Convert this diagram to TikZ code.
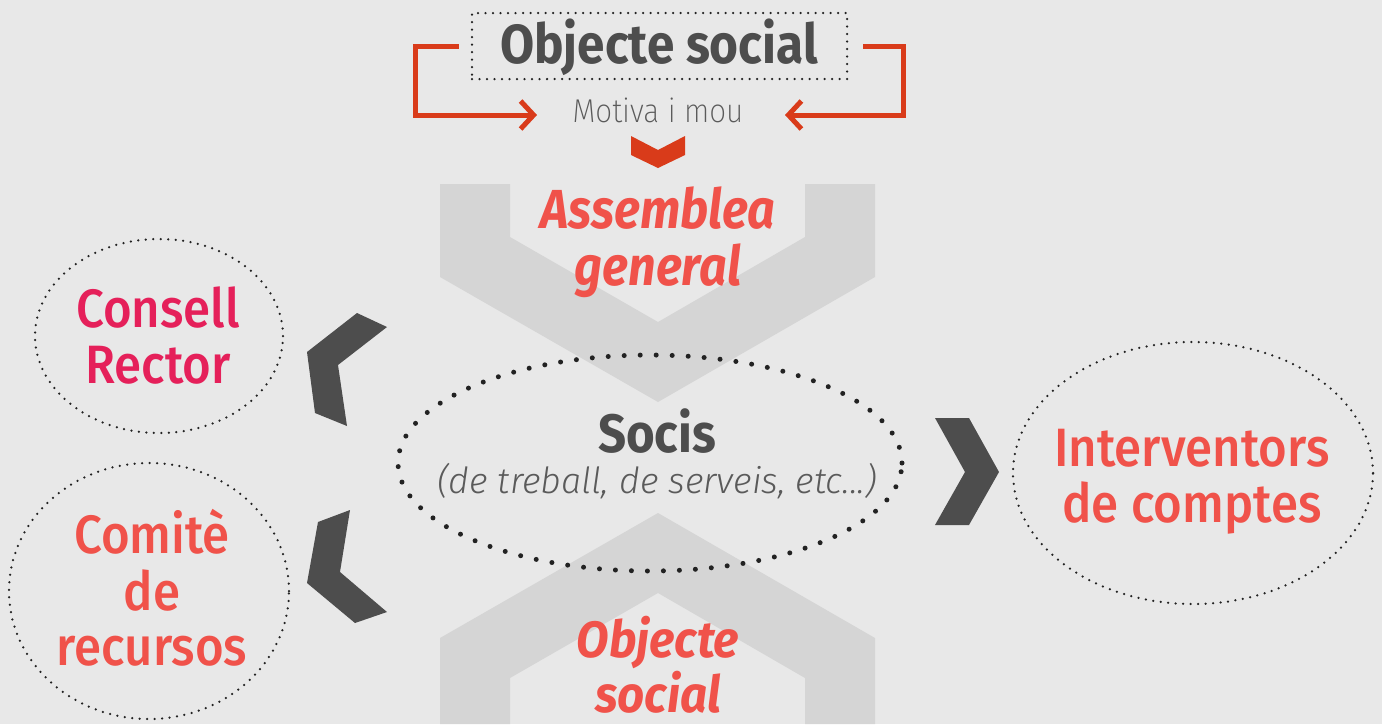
\documentclass[tikz,border=0pt]{standalone}
\usepackage{fontspec}
\setmainfont{Fira Sans}
\newfontfamily\lightfont{Fira Sans Light}
\newfontfamily\xlightfont{Fira Sans ExtraLight}[FakeStretch=0.9]
\newfontfamily\medfont{Fira Sans Medium}[FakeStretch=0.91]
\usetikzlibrary{arrows.meta,shapes.geometric}
\definecolor{bg}{HTML}{E8E8E8}
\definecolor{chev}{HTML}{D5D5D5}
\definecolor{dark}{HTML}{4D4D4D}
\definecolor{redline}{HTML}{D93B1A}
\definecolor{txtred}{HTML}{F0524A}
\definecolor{crimson}{HTML}{E5205A}
\definecolor{dotc}{HTML}{222222}
\definecolor{motc}{HTML}{5A5A5A}
\tikzset{
  smalldots/.style={draw=dotc, line width=2.5pt, dash pattern=on 0pt off 7.5pt, line cap=round},
  bigdots/.style={draw=dotc, line width=5pt, dash pattern=on 0pt off 16pt, line cap=round},
  oval/.style={ellipse, inner sep=0pt},
  bracket/.style={draw=redline, line width=5pt, -{Straight Barb[length=13pt,width=28pt]}},
  lbl/.style={anchor=base, inner sep=0pt},
  rednormal/.style={lbl, text=txtred, font=\fontsize{54}{56}\selectfont\medfont},
  redbi/.style={lbl, text=txtred, font=\fontsize{55}{57}\selectfont\bfseries\itshape\addfontfeatures{FakeStretch=0.88}},
  darkbold/.style={lbl, text=dark, font=\fontsize{55}{57}\selectfont\bfseries\addfontfeatures{FakeStretch=0.9}},
}
\begin{document}
\begin{tikzpicture}[x=1pt,y=-1pt]
\fill[bg] (0,0) rectangle (1382,724);
\useasboundingbox (0,0) rectangle (1382,724);
% light chevrons
\fill[chev] (440,184) -- (510,184) -- (510,237) -- (658,322) -- (805,237) -- (805,184) -- (875,184) -- (875,277) -- (658,402) -- (440,277) -- cycle;
\fill[chev] (440,638) -- (658,513) -- (875,638) -- (875,724) -- (805,724) -- (805,678) -- (658,593) -- (510,678) -- (510,724) -- (440,724) -- cycle;
% dark chevrons
\fill[dark] (357,313) -- (387,327) -- (338,365) -- (347,426) -- (315,413) -- (307,352) -- cycle;
\fill[dark] (350,510) -- (340,572) -- (387,612) -- (355,623) -- (307,583) -- (318,522) -- cycle;
\fill[dark] (935,418) -- (969,418) -- (999,472) -- (969,525) -- (935,525) -- (965,472) -- cycle;
% small red chevron
\fill[redline] (631,136) -- (658,150) -- (685,136) -- (685,155) -- (658,168) -- (631,155) -- cycle;
% top box
\node[smalldots, minimum width=375pt, minimum height=66pt, inner sep=0pt] (box) at (659.5,46) {};
\node[darkbold] (objtitle) at (659,63) {Objecte social};
\node[lbl, text=motc, font=\fontsize{33}{35}\selectfont\xlightfont] (motiva) at (658,122) {Motiva i mou};
\coordinate (lt) at (537,115);
\coordinate (rt) at (785,115);
\draw[bracket] ([xshift=-12pt]box.west) -- ++(-43,0) |- (lt);
\draw[bracket] ([xshift=15pt]box.east) -- ++(40,0) |- (rt);
% assemblea
\node[redbi] (ass1) at (658,228) {Assemblea};
\node[redbi] (ass2) at (658,285) {general};
% socis
\node[oval, bigdots, minimum width=504pt, minimum height=216pt] (socis) at (650,463) {};
\node[darkbold, font=\fontsize{54}{56}\selectfont\bfseries\addfontfeatures{FakeStretch=0.91}] (socist) at (657,452) {Socis};
\node[lbl, text=motc, font=\fontsize{36}{38}\selectfont\lightfont\itshape] (socissub) at (657,493) {(de treball, de serveis, etc...)};
% bottom objecte social
\node[redbi, font=\fontsize{51}{53}\selectfont\bfseries\itshape\addfontfeatures{FakeStretch=0.93}] (obj1) at (658,657) {Objecte};
\node[redbi, font=\fontsize{51}{53}\selectfont\bfseries\itshape\addfontfeatures{FakeStretch=0.93}] (obj2) at (658,712) {social};
% consell rector
\node[oval, smalldots, minimum width=248pt, minimum height=194pt] (consell) at (159,336) {};
\node[rednormal, text=crimson] (cr1) at (158,327) {Consell};
\node[rednormal, text=crimson] (cr2) at (158,383) {Rector};
% comite
\node[oval, smalldots, minimum width=280pt, minimum height=256pt] (comite) at (149,591) {};
\node[rednormal] (cm1) at (152,553) {Comitè};
\node[rednormal] (cm2) at (152,610) {de};
\node[rednormal] (cm3) at (152,665) {recursos};
% interventors
\node[oval, smalldots, minimum width=360pt, minimum height=262pt] (interv) at (1193,473) {};
\node[rednormal] (iv1) at (1192,466) {Interventors};
\node[rednormal] (iv2) at (1192,522) {de comptes};
\end{tikzpicture}
\end{document}
